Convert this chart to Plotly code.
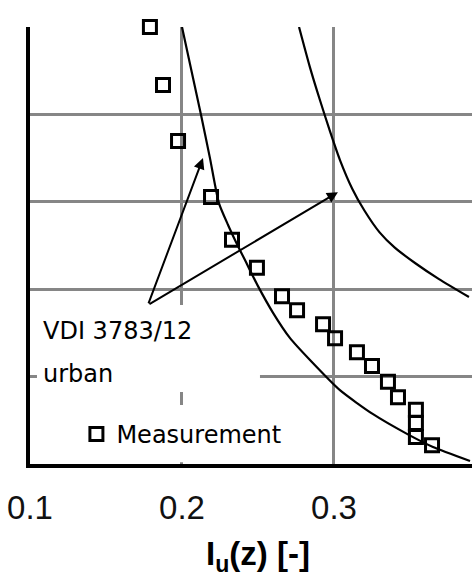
import plotly.graph_objects as go

# Measured turbulence intensity profile: I_u(z) and height z
meas_iu = [0.1789, 0.1875, 0.1974, 0.2191, 0.2329, 0.2493, 0.2658, 0.2757, 0.2928,
           0.3007, 0.3151, 0.3250, 0.3355, 0.3421, 0.3539, 0.3539, 0.3539, 0.3645]
meas_z = [100.0, 86.7, 73.9, 61.1, 51.3, 44.9, 38.4, 35.2, 32.0,
          28.8, 25.6, 22.4, 18.8, 15.3, 12.4, 9.4, 6.2, 4.3]

# VDI 3783/12 profiles (urban)
vdi_low_iu = [0.2000, 0.2125, 0.2184, 0.2243, 0.2303, 0.2355, 0.2421, 0.2500,
              0.2599, 0.2711, 0.2842, 0.3039, 0.3257, 0.3480, 0.3651, 0.3895]
vdi_low_z = [100.0, 79.9, 70.0, 59.7, 54.7, 50.8, 46.2, 40.7,
             34.6, 28.8, 23.8, 16.9, 11.4, 6.9, 3.9, 0.7]

vdi_high_iu = [0.2770, 0.2840, 0.2910, 0.2975, 0.3040, 0.3120, 0.3200, 0.3300,
               0.3400, 0.3533, 0.3691, 0.3888]
vdi_high_z = [100.0, 91.0, 83.0, 76.0, 69.5, 63.0, 58.0, 53.0,
              49.5, 46.0, 42.3, 38.2]

x_ticks = [0.1, 0.2, 0.3]
x_tick_text = ["0.1", "0.2", "0.3"]
z_ticks = [0, 20, 40, 60, 80, 100]

label_vdi = ["VDI 3783/12", "urban"]
label_meas = "Measurement"
x_title = "<b>I<sub>u</sub>(z) [-]</b>"

TXT_FONT = "DejaVu Sans"
NUM_FONT = "Liberation Sans, Arial, sans-serif"

fig = go.Figure()

for xs, zs in [(vdi_low_iu, vdi_low_z), (vdi_high_iu, vdi_high_z)]:
    fig.add_trace(go.Scatter(
        x=xs, y=zs, mode="lines", showlegend=False,
        line=dict(color="black", width=2.2, shape="spline", smoothing=0.6),
        hoverinfo="skip",
    ))

fig.add_trace(go.Scatter(
    x=meas_iu, y=meas_z, mode="markers", name=label_meas,
    marker=dict(symbol="square-open", size=13, color="black",
                line=dict(width=3, color="black")),
    cliponaxis=False,
))

# white panels behind the labels (hide the grid there)
fig.add_shape(type="rect", xref="x", yref="y", layer="between",
              x0=0.1046, x1=0.2513, y0=16.5, y1=36.4,
              fillcolor="white", line=dict(width=0))
fig.add_shape(type="rect", xref="x", yref="y", layer="between",
              x0=0.133, x1=0.275, y0=0.4, y1=13.5,
              fillcolor="white", line=dict(width=0))

# label text
fig.add_annotation(x=0.1072, y=30.4, xref="x", yref="y", text=label_vdi[0],
                   showarrow=False, xanchor="left", yanchor="middle",
                   font=dict(family=TXT_FONT, size=24, color="black"))
fig.add_annotation(x=0.1072, y=20.6, xref="x", yref="y", text=label_vdi[1],
                   showarrow=False, xanchor="left", yanchor="middle",
                   font=dict(family=TXT_FONT, size=24, color="black"))

# arrows from the label to both curves
tail = (0.1776, 36.4)
for tip in [(0.2138, 70.0), (0.3026, 62.2)]:
    fig.add_annotation(x=tip[0], y=tip[1], ax=tail[0], ay=tail[1],
                       xref="x", yref="y", axref="x", ayref="y", text="",
                       showarrow=True, arrowhead=2, arrowsize=1.1,
                       arrowwidth=2, arrowcolor="black")

# x-axis title
fig.add_annotation(x=0.516, y=-0.21, xref="paper", yref="paper", text=x_title,
                   showarrow=False, xanchor="center", yanchor="middle",
                   font=dict(family=NUM_FONT, size=33, color="black"))

fig.update_xaxes(
    range=[0.1, 0.3908], tickvals=x_ticks, ticktext=x_tick_text,
    showgrid=True, gridcolor="#868686", gridwidth=2.5,
    showline=True, linecolor="black", linewidth=3.5,
    zeroline=False, ticks="", ticklabelstandoff=12,
    tickfont=dict(family=NUM_FONT, size=33, color="#111"),
)
fig.update_yaxes(
    range=[0, 100], tickvals=z_ticks, showticklabels=False,
    showgrid=True, gridcolor="#868686", gridwidth=2.5,
    showline=True, linecolor="black", linewidth=3.5,
    zeroline=False, ticks="",
)

fig.update_layout(
    width=472, height=578, autosize=False,
    margin=dict(l=30, r=0, t=27, b=114),
    paper_bgcolor="white", plot_bgcolor="white",
    showlegend=True,
    legend=dict(x=0.105, y=0.068, xanchor="left", yanchor="middle",
                bgcolor="rgba(0,0,0,0)", borderwidth=0,
                font=dict(family=TXT_FONT, size=24, color="black")),
)

fig.write_html("out.html")
